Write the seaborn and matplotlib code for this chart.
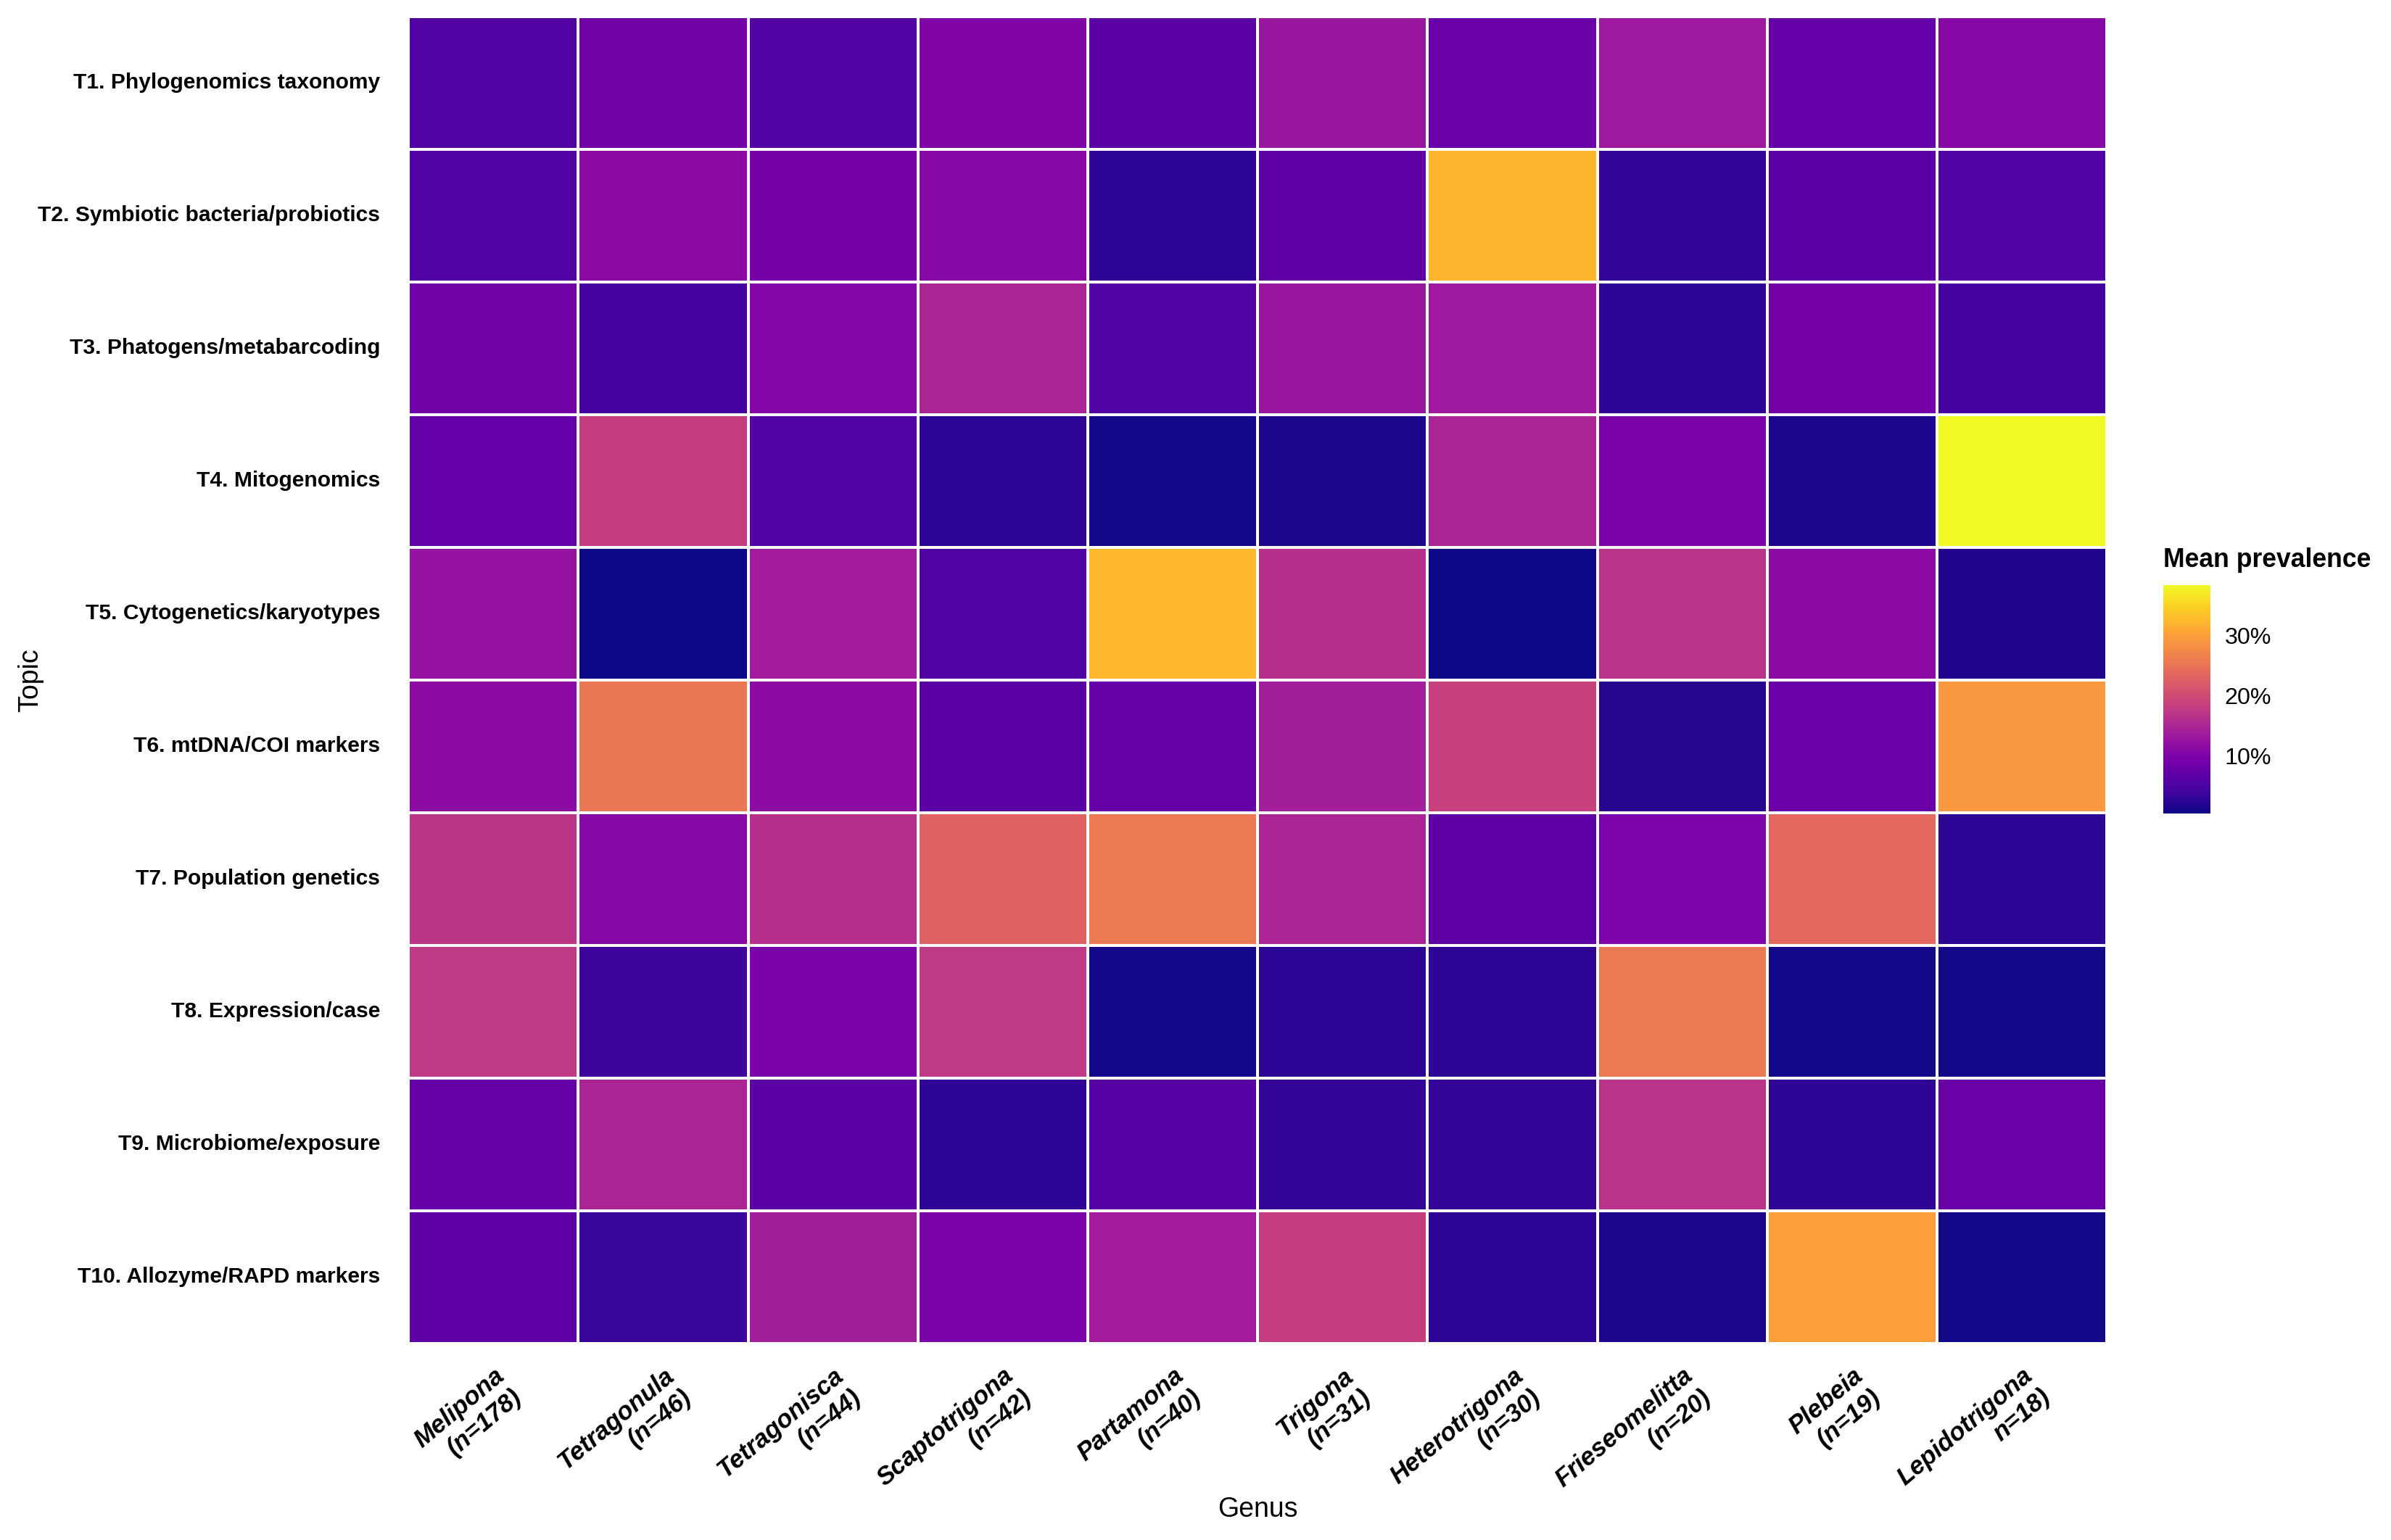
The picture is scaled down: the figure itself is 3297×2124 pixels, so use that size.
import pandas as pd
import seaborn as sns
import matplotlib.pyplot as plt

# Genus (columns) and sample sizes
genera = ["Melipona", "Tetragonula", "Tetragonisca", "Scaptotrigona", "Partamona",
          "Trigona", "Heterotrigona", "Frieseomelitta", "Plebeia", "Lepidotrigona"]
n_sizes = ["(n=178)", "(n=46)", "(n=44)", "(n=42)", "(n=40)",
           "(n=31)", "(n=30)", "(n=20)", "(n=19)", "n=18)"]

# Topics (rows)
topics = ["T1. Phylogenomics taxonomy", "T2. Symbiotic bacteria/probiotics",
          "T3. Phatogens/metabarcoding", "T4. Mitogenomics",
          "T5. Cytogenetics/karyotypes", "T6. mtDNA/COI markers",
          "T7. Population genetics", "T8. Expression/case",
          "T9. Microbiome/exposure", "T10. Allozyme/RAPD markers"]

# Mean prevalence (%) per topic, one value per genus
t1 = [5.7, 8.7, 5.7, 10.2, 6.4, 12.9, 8.0, 13.3, 7.2, 11.0]
t2 = [5.7, 11.4, 9.1, 11.0, 2.6, 6.8, 32.3, 3.0, 6.4, 5.7]
t3 = [8.7, 4.5, 10.6, 14.8, 5.7, 12.9, 13.3, 2.6, 9.1, 4.5]
t4 = [7.2, 18.2, 5.7, 2.3, 0.7, 1.1, 14.8, 9.5, 1.1, 38.4]
t5 = [12.5, 0.35, 13.7, 5.7, 32.7, 16.3, 0.4, 16.7, 11.4, 1.5]
t6 = [11.4, 25.5, 11.4, 6.4, 7.6, 14.0, 18.6, 1.9, 8.0, 29.3]
t7 = [17.1, 11.0, 16.3, 22.8, 25.8, 14.8, 6.8, 9.9, 23.6, 2.3]
t8 = [17.5, 3.8, 9.5, 17.5, 0.7, 2.3, 2.6, 25.8, 0.7, 0.7]
t9 = [7.6, 14.8, 6.4, 2.6, 6.1, 3.0, 3.0, 16.7, 2.6, 8.0]
t10 = [6.8, 3.4, 14.0, 9.5, 13.7, 18.2, 2.3, 1.1, 30.0, 0.7]

df = pd.DataFrame([t1, t2, t3, t4, t5, t6, t7, t8, t9, t10],
                  index=topics, columns=genera)

sns.set_theme(style="white")
plt.rcParams['font.family'] = ['Liberation Sans', 'DejaVu Sans']
plt.rcParams['text.color'] = 'black'
plt.rcParams['axes.labelcolor'] = 'black'
plt.rcParams['xtick.color'] = 'black'
plt.rcParams['ytick.color'] = 'black'

fig = plt.figure(figsize=(16.485, 10.62), dpi=200)
ax = fig.add_axes([0.1708, 0.1276, 0.7104, 0.8616])
cax = fig.add_axes([0.9048, 0.4717, 0.0197, 0.1483])

sns.heatmap(df, cmap="plasma", ax=ax, cbar_ax=cax,
            linewidths=0.8, linecolor="white",
            cbar_kws={"ticks": [10, 20, 30]})

# axis tick labels
xlabels = [f"{g}\n{n}" for g, n in zip(genera, n_sizes)]
ax.set_xticklabels(xlabels, rotation=40, ha="right", va="top",
                   rotation_mode="anchor", multialignment="right",
                   fontweight="bold", fontstyle="italic", fontsize=12.5)
ax.set_yticklabels(topics, rotation=0, fontweight="bold", fontsize=10.8)
ax.tick_params(axis="x", length=0, pad=10, colors="black")
ax.tick_params(axis="y", length=0, pad=14, colors="black")

ax.set_xlabel("Genus", fontsize=13.5, va="center")
ax.set_ylabel("Topic", fontsize=13.5, va="center")
ax.xaxis.set_label_coords(0.5, -0.125)
ax.yaxis.set_label_coords(-0.2225, 0.5)

# colourbar styled like a ggplot guide
cbar = ax.collections[0].colorbar
cbar.outline.set_visible(False)
cbar.set_ticklabels(["10%", "20%", "30%"])
cax.yaxis.set_ticks_position("both")
cax.tick_params(direction="in", length=4, width=1.2, color="#f6d8f0",
                labelsize=11.6, pad=7, labelleft=False, labelright=True,
                labelcolor="black")
fig.text(2983 / 3297, 1 - 782 / 2124, "Mean prevalence",
         fontweight="bold", fontsize=12.8, ha="left", va="baseline")

fig.savefig("out.png", dpi=200)
